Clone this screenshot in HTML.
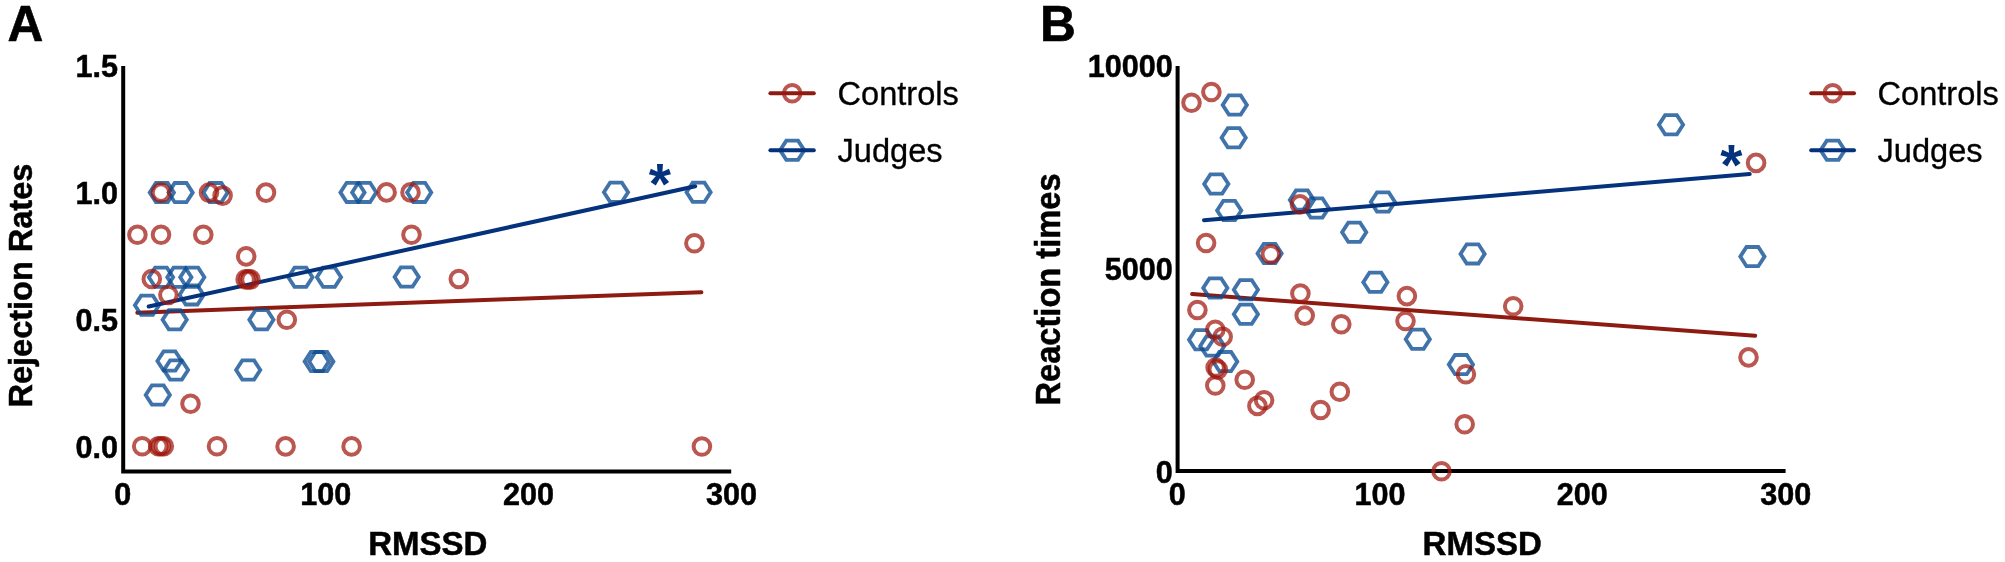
<!DOCTYPE html>
<html lang="en"><head><meta charset="utf-8"><title>Figure</title>
<style>html,body{margin:0;padding:0;background:#fff}body{width:2005px;height:562px;overflow:hidden}svg{display:block;filter:blur(0.45px)}text{font-family:"Liberation Sans",Arial,Helvetica,sans-serif;fill:#000}.b{font-weight:700}.tick{font-size:30.6px;font-weight:700;stroke:#000;stroke-width:.5px}.ttl{font-size:33px;font-weight:700;stroke:#000;stroke-width:.5px}.ttlv{font-size:32.5px;font-weight:700;stroke:#000;stroke-width:.5px}.leg{font-size:32.6px;stroke:#000;stroke-width:.3px}.pan{font-size:49.6px;font-weight:700;stroke:#000;stroke-width:.6px}.rc{fill:none;stroke:#a0160c;stroke-opacity:0.72;stroke-width:4.0}.bh{fill:none;stroke:#0a4b91;stroke-opacity:0.78;stroke-width:3.8;stroke-linejoin:miter}.rl{stroke:#8e1b12;stroke-width:4.0;stroke-linecap:round;fill:none}.bl{stroke:#05327d;stroke-width:4.0;stroke-linecap:round;fill:none}.ax{stroke:#000;stroke-width:4;fill:none;stroke-linecap:butt;stroke-linejoin:miter}.star{font-size:57px;font-weight:700;fill:#05327d}</style></head><body>
<svg width="2005" height="562" viewBox="0 0 2005 562">
<rect width="2005" height="562" fill="#fff"/>
<g id="panelA">
<polyline class="ax" points="123.2,66.0 123.2,471.6 731.2,471.6"/>
<line class="rl" x1="137.3" y1="312.7" x2="701.4" y2="292.2"/>
<polygon class="bh" points="173.9,192.6 167.7,202.2 155.9,202.2 149.7,192.6 155.9,183.0 167.7,183.0"/>
<polygon class="bh" points="192.7,192.6 186.5,202.2 174.7,202.2 168.5,192.6 174.7,183.0 186.5,183.0"/>
<polygon class="bh" points="227.6,192.6 221.4,202.2 209.6,202.2 203.4,192.6 209.6,183.0 221.4,183.0"/>
<polygon class="bh" points="364.6,192.4 358.4,202.0 346.6,202.0 340.4,192.4 346.6,182.8 358.4,182.8"/>
<polygon class="bh" points="376.3,192.4 370.1,202.0 358.3,202.0 352.1,192.4 358.3,182.8 370.1,182.8"/>
<polygon class="bh" points="431.3,192.4 425.1,202.0 413.3,202.0 407.1,192.4 413.3,182.8 425.1,182.8"/>
<polygon class="bh" points="628.1,192.3 621.9,201.9 610.1,201.9 603.9,192.3 610.1,182.7 621.9,182.7"/>
<polygon class="bh" points="710.7,192.3 704.5,201.9 692.7,201.9 686.5,192.3 692.7,182.7 704.5,182.7"/>
<polygon class="bh" points="173.1,277.2 166.9,286.8 155.1,286.8 148.9,277.2 155.1,267.6 166.9,267.6"/>
<polygon class="bh" points="191.5,277.2 185.3,286.8 173.5,286.8 167.3,277.2 173.5,267.6 185.3,267.6"/>
<polygon class="bh" points="204.4,277.2 198.2,286.8 186.4,286.8 180.2,277.2 186.4,267.6 198.2,267.6"/>
<polygon class="bh" points="312.5,277.2 306.3,286.8 294.5,286.8 288.3,277.2 294.5,267.6 306.3,267.6"/>
<polygon class="bh" points="341.1,277.2 334.9,286.8 323.1,286.8 316.9,277.2 323.1,267.6 334.9,267.6"/>
<polygon class="bh" points="418.8,277.0 412.6,286.6 400.8,286.6 394.6,277.0 400.8,267.4 412.6,267.4"/>
<polygon class="bh" points="203.7,294.9 197.5,304.5 185.7,304.5 179.5,294.9 185.7,285.3 197.5,285.3"/>
<polygon class="bh" points="159.1,305.3 152.9,314.9 141.1,314.9 134.9,305.3 141.1,295.7 152.9,295.7"/>
<polygon class="bh" points="186.8,319.8 180.6,329.4 168.8,329.4 162.6,319.8 168.8,310.2 180.6,310.2"/>
<polygon class="bh" points="273.5,319.8 267.3,329.4 255.5,329.4 249.3,319.8 255.5,310.2 267.3,310.2"/>
<polygon class="bh" points="181.6,361.0 175.4,370.6 163.6,370.6 157.4,361.0 163.6,351.4 175.4,351.4"/>
<polygon class="bh" points="328.8,361.6 322.6,371.2 310.8,371.2 304.6,361.6 310.8,352.0 322.6,352.0"/>
<polygon class="bh" points="333.4,361.6 327.2,371.2 315.4,371.2 309.2,361.6 315.4,352.0 327.2,352.0"/>
<polygon class="bh" points="188.1,370.0 181.9,379.6 170.1,379.6 163.9,370.0 170.1,360.4 181.9,360.4"/>
<polygon class="bh" points="260.3,370.0 254.1,379.6 242.3,379.6 236.1,370.0 242.3,360.4 254.1,360.4"/>
<polygon class="bh" points="169.9,395.0 163.7,404.6 151.9,404.6 145.7,395.0 151.9,385.4 163.7,385.4"/>
<line class="bl" x1="148.7" y1="306.5" x2="695.2" y2="186.3"/>
<circle class="rc" cx="137.4" cy="234.7" r="8.3"/>
<circle class="rc" cx="161.0" cy="234.7" r="8.3"/>
<circle class="rc" cx="203.3" cy="234.7" r="8.3"/>
<circle class="rc" cx="161.0" cy="192.6" r="8.3"/>
<circle class="rc" cx="209.0" cy="192.6" r="8.3"/>
<circle class="rc" cx="222.6" cy="195.6" r="8.3"/>
<circle class="rc" cx="266.0" cy="192.6" r="8.3"/>
<circle class="rc" cx="386.6" cy="192.4" r="8.3"/>
<circle class="rc" cx="410.5" cy="192.4" r="8.3"/>
<circle class="rc" cx="411.5" cy="234.7" r="8.3"/>
<circle class="rc" cx="246.2" cy="256.4" r="8.3"/>
<circle class="rc" cx="151.8" cy="279.0" r="8.3"/>
<circle class="rc" cx="245.6" cy="279.4" r="8.3"/>
<circle class="rc" cx="248.2" cy="279.4" r="8.3"/>
<circle class="rc" cx="250.5" cy="279.4" r="8.3"/>
<circle class="rc" cx="458.8" cy="279.0" r="8.3"/>
<circle class="rc" cx="168.4" cy="295.0" r="8.3"/>
<circle class="rc" cx="286.8" cy="319.8" r="8.3"/>
<circle class="rc" cx="190.5" cy="403.7" r="8.3"/>
<circle class="rc" cx="142.2" cy="446.3" r="8.3"/>
<circle class="rc" cx="158.3" cy="446.3" r="8.3"/>
<circle class="rc" cx="161.0" cy="446.3" r="8.3"/>
<circle class="rc" cx="163.8" cy="446.3" r="8.3"/>
<circle class="rc" cx="217.0" cy="446.3" r="8.3"/>
<circle class="rc" cx="285.6" cy="446.4" r="8.3"/>
<circle class="rc" cx="351.6" cy="446.4" r="8.3"/>
<circle class="rc" cx="701.9" cy="446.5" r="8.3"/>
<circle class="rc" cx="694.4" cy="243.3" r="8.3"/>
<text class="pan" text-anchor="start" transform="translate(7.5,41.0) scale(1,1.020)">A</text>
<text class="tick" text-anchor="end" transform="translate(118.0,76.9) scale(1,1.040)">1.5</text>
<text class="tick" text-anchor="end" transform="translate(118.0,203.9) scale(1,1.040)">1.0</text>
<text class="tick" text-anchor="end" transform="translate(118.0,330.7) scale(1,1.040)">0.5</text>
<text class="tick" text-anchor="end" transform="translate(118.0,457.8) scale(1,1.040)">0.0</text>
<text class="tick" text-anchor="middle" transform="translate(122.8,505.0) scale(1,1.040)">0</text>
<text class="tick" text-anchor="middle" transform="translate(325.7,505.0) scale(1,1.040)">100</text>
<text class="tick" text-anchor="middle" transform="translate(528.6,505.0) scale(1,1.040)">200</text>
<text class="tick" text-anchor="middle" transform="translate(731.5,505.0) scale(1,1.040)">300</text>
<text class="ttl" text-anchor="middle" transform="translate(427.8,555.0) scale(1,1.000)">RMSSD</text>
<text class="ttlv" text-anchor="middle" transform="translate(31.8,285.6) rotate(-90) scale(1,1.03)">Rejection Rates</text>
<text class="star" text-anchor="middle" x="659.8" y="203.8">*</text>
<line class="rl" x1="770.4" y1="93.2" x2="813.8" y2="93.2"/><circle class="rc" cx="792.2" cy="93.2" r="8.3"/>
<polygon class="bh" points="804.3,150.3 798.1,159.9 786.3,159.9 780.1,150.3 786.3,140.7 798.1,140.7"/><line class="bl" x1="770.4" y1="150.3" x2="813.8" y2="150.3"/>
<text class="leg" text-anchor="start" transform="translate(837.5,105.3) scale(1,1.030)">Controls</text>
<text class="leg" text-anchor="start" transform="translate(837.5,162.2) scale(1,1.030)">Judges</text>
</g>
<g id="panelB">
<polyline class="ax" points="1177.6,66.0 1177.6,471.0 1785.6,471.0"/>
<line class="rl" x1="1192.1" y1="294.1" x2="1755.2" y2="335.7"/>
<polygon class="bh" points="1246.9,105.0 1240.7,114.6 1228.9,114.6 1222.7,105.0 1228.9,95.4 1240.7,95.4"/>
<polygon class="bh" points="1245.8,137.7 1239.6,147.3 1227.8,147.3 1221.6,137.7 1227.8,128.1 1239.6,128.1"/>
<polygon class="bh" points="1228.4,184.0 1222.2,193.6 1210.4,193.6 1204.2,184.0 1210.4,174.4 1222.2,174.4"/>
<polygon class="bh" points="1241.3,210.5 1235.1,220.1 1223.3,220.1 1217.1,210.5 1223.3,200.9 1235.1,200.9"/>
<polygon class="bh" points="1314.0,200.0 1307.8,209.6 1296.0,209.6 1289.8,200.0 1296.0,190.4 1307.8,190.4"/>
<polygon class="bh" points="1328.7,208.0 1322.5,217.6 1310.7,217.6 1304.5,208.0 1310.7,198.4 1322.5,198.4"/>
<polygon class="bh" points="1395.0,202.0 1388.8,211.6 1377.0,211.6 1370.8,202.0 1377.0,192.4 1388.8,192.4"/>
<polygon class="bh" points="1366.3,232.3 1360.1,241.9 1348.3,241.9 1342.1,232.3 1348.3,222.7 1360.1,222.7"/>
<polygon class="bh" points="1281.7,253.5 1275.5,263.1 1263.7,263.1 1257.5,253.5 1263.7,243.9 1275.5,243.9"/>
<polygon class="bh" points="1227.4,288.0 1221.2,297.6 1209.4,297.6 1203.2,288.0 1209.4,278.4 1221.2,278.4"/>
<polygon class="bh" points="1258.0,289.7 1251.8,299.3 1240.0,299.3 1233.8,289.7 1240.0,280.1 1251.8,280.1"/>
<polygon class="bh" points="1387.5,282.3 1381.3,291.9 1369.5,291.9 1363.3,282.3 1369.5,272.7 1381.3,272.7"/>
<polygon class="bh" points="1258.0,314.3 1251.8,323.9 1240.0,323.9 1233.8,314.3 1240.0,304.7 1251.8,304.7"/>
<polygon class="bh" points="1213.2,339.7 1207.0,349.3 1195.2,349.3 1189.0,339.7 1195.2,330.1 1207.0,330.1"/>
<polygon class="bh" points="1224.4,346.0 1218.2,355.6 1206.4,355.6 1200.2,346.0 1206.4,336.4 1218.2,336.4"/>
<polygon class="bh" points="1237.3,361.6 1231.1,371.2 1219.3,371.2 1213.1,361.6 1219.3,352.0 1231.1,352.0"/>
<polygon class="bh" points="1484.7,253.9 1478.5,263.5 1466.7,263.5 1460.5,253.9 1466.7,244.3 1478.5,244.3"/>
<polygon class="bh" points="1429.9,339.2 1423.7,348.8 1411.9,348.8 1405.7,339.2 1411.9,329.6 1423.7,329.6"/>
<polygon class="bh" points="1473.0,364.6 1466.8,374.2 1455.0,374.2 1448.8,364.6 1455.0,355.0 1466.8,355.0"/>
<polygon class="bh" points="1683.1,124.8 1676.9,134.4 1665.1,134.4 1658.9,124.8 1665.1,115.2 1676.9,115.2"/>
<polygon class="bh" points="1764.5,256.6 1758.3,266.2 1746.5,266.2 1740.3,256.6 1746.5,247.0 1758.3,247.0"/>
<line class="bl" x1="1204.0" y1="220.2" x2="1749.7" y2="174.0"/>
<circle class="rc" cx="1191.5" cy="102.8" r="8.3"/>
<circle class="rc" cx="1211.4" cy="92.0" r="8.3"/>
<circle class="rc" cx="1299.9" cy="204.4" r="8.3"/>
<circle class="rc" cx="1206.1" cy="243.0" r="8.3"/>
<circle class="rc" cx="1270.8" cy="254.2" r="8.3"/>
<circle class="rc" cx="1300.4" cy="293.5" r="8.3"/>
<circle class="rc" cx="1406.9" cy="296.1" r="8.3"/>
<circle class="rc" cx="1197.4" cy="310.0" r="8.3"/>
<circle class="rc" cx="1304.7" cy="315.6" r="8.3"/>
<circle class="rc" cx="1341.3" cy="324.3" r="8.3"/>
<circle class="rc" cx="1215.3" cy="329.8" r="8.3"/>
<circle class="rc" cx="1222.7" cy="336.7" r="8.3"/>
<circle class="rc" cx="1405.5" cy="321.0" r="8.3"/>
<circle class="rc" cx="1215.6" cy="367.5" r="8.3"/>
<circle class="rc" cx="1217.8" cy="369.5" r="8.3"/>
<circle class="rc" cx="1215.3" cy="385.5" r="8.3"/>
<circle class="rc" cx="1244.7" cy="379.8" r="8.3"/>
<circle class="rc" cx="1264.1" cy="400.2" r="8.3"/>
<circle class="rc" cx="1257.4" cy="405.9" r="8.3"/>
<circle class="rc" cx="1339.8" cy="391.7" r="8.3"/>
<circle class="rc" cx="1320.6" cy="410.0" r="8.3"/>
<circle class="rc" cx="1513.2" cy="306.2" r="8.3"/>
<circle class="rc" cx="1465.9" cy="374.2" r="8.3"/>
<circle class="rc" cx="1464.7" cy="424.2" r="8.3"/>
<circle class="rc" cx="1441.5" cy="471.3" r="8.3"/>
<circle class="rc" cx="1756.1" cy="162.9" r="8.3"/>
<circle class="rc" cx="1748.5" cy="357.4" r="8.3"/>
<text class="pan" text-anchor="start" transform="translate(1039.9,41.0) scale(1,1.020)">B</text>
<text class="tick" text-anchor="end" transform="translate(1172.8,76.8) scale(1,1.040)">10000</text>
<text class="tick" text-anchor="end" transform="translate(1172.8,279.8) scale(1,1.040)">5000</text>
<text class="tick" text-anchor="end" transform="translate(1172.8,482.9) scale(1,1.040)">0</text>
<text class="tick" text-anchor="middle" transform="translate(1177.2,505.0) scale(1,1.040)">0</text>
<text class="tick" text-anchor="middle" transform="translate(1380.1,505.0) scale(1,1.040)">100</text>
<text class="tick" text-anchor="middle" transform="translate(1582.3,505.0) scale(1,1.040)">200</text>
<text class="tick" text-anchor="middle" transform="translate(1785.8,505.0) scale(1,1.040)">300</text>
<text class="ttl" text-anchor="middle" transform="translate(1482.2,555.0) scale(1,1.000)">RMSSD</text>
<text class="ttlv" text-anchor="middle" transform="translate(1059.6,289.5) rotate(-90) scale(1.004,1.06)">Reaction times</text>
<text class="star" text-anchor="middle" x="1731.4" y="185.2">*</text>
<line class="rl" x1="1811.2" y1="93.2" x2="1854" y2="93.2"/><circle class="rc" cx="1832.7" cy="93.2" r="8.3"/>
<polygon class="bh" points="1844.8,150.3 1838.6,159.9 1826.8,159.9 1820.6,150.3 1826.8,140.7 1838.6,140.7"/><line class="bl" x1="1811.2" y1="150.3" x2="1854" y2="150.3"/>
<text class="leg" text-anchor="start" transform="translate(1877.5,105.3) scale(1,1.030)">Controls</text>
<text class="leg" text-anchor="start" transform="translate(1877.5,162.2) scale(1,1.030)">Judges</text>
</g>
</svg></body></html>
